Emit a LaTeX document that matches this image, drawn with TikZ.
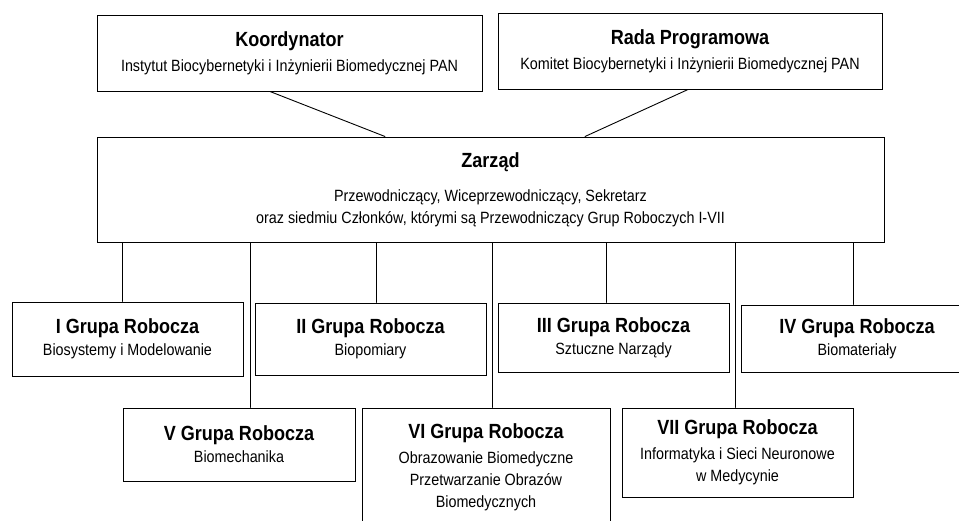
\documentclass[tikz,border=0pt]{standalone}
\usepackage{fontspec}
\setmainfont{Liberation Sans}[FakeStretch=0.88]
\usepackage{tikz}

\newcommand{\grtitle}[1]{{\fontsize{20.5}{24}\selectfont\bfseries #1}}

\begin{document}
\begin{tikzpicture}[x=1pt,y=-1pt,line cap=round,
  orgbox/.style={draw,line width=1pt,align=center,inner sep=0pt,
    minimum width=231,minimum height=74,font=\fontsize{16.3}{22}\selectfont},
  link/.style={line width=0.9pt}]
\useasboundingbox (0,0) rectangle (959,520);
% top level
\node[orgbox,minimum width=385,minimum height=76] (koord) at (289.5,53)
  {\grtitle{Koordynator}\\[3pt]Instytut Biocybernetyki i Inżynierii Biomedycznej PAN};
\node[orgbox,minimum width=384,minimum height=76] (rada) at (690,51)
  {\grtitle{Rada Programowa}\\[3pt]Komitet Biocybernetyki i Inżynierii Biomedycznej PAN};
\node[orgbox,minimum width=787,minimum height=105] (zarzad) at (490.5,189.5)
  {\grtitle{Zarząd}\\[12pt]Przewodniczący, Wiceprzewodniczący, Sekretarz\\oraz siedmiu Członków, którymi są Przewodniczący Grup Roboczych I-VII};
% working groups
\node[orgbox] (g1) at (127.5,339) {\grtitle{I Grupa Robocza}\\Biosystemy i Modelowanie};
\node[orgbox,minimum height=72] (g2) at (370.5,339) {\grtitle{II Grupa Robocza}\\Biopomiary};
\node[orgbox,minimum height=69] (g3) at (613.5,337.5) {\grtitle{III Grupa Robocza}\\Sztuczne Narządy};
\node[orgbox,minimum width=232,minimum height=67] (g4) at (857,338.5) {\grtitle{IV Grupa Robocza}\\Biomateriały};
\node[orgbox,minimum width=232,minimum height=73] (g5) at (239,444.5) {\grtitle{V Grupa Robocza}\\Biomechanika};
\node[orgbox,minimum width=248,minimum height=118] (g6) at (486,467)
  {\grtitle{VI Grupa Robocza}\\[3pt]Obrazowanie Biomedyczne\\Przetwarzanie Obrazów\\Biomedycznych};
\node[orgbox,minimum height=89] (g7) at (737.5,452.5)
  {\grtitle{VII Grupa Robocza}\\[3pt]Informatyka i Sieci Neuronowe\\w Medycynie};
% links
\draw[link] ([xshift=-19.5pt]koord.south) -- ([xshift=-105.5pt]zarzad.north);
\draw[link] ([xshift=-2pt]rada.south) -- ([xshift=94.5pt]zarzad.north);
\draw[link] ([xshift=-5.5pt]g1.north) -- ([xshift=-5.5pt]g1.north |- zarzad.south);
\draw[link] ([xshift=5.5pt]g2.north) -- ([xshift=5.5pt]g2.north |- zarzad.south);
\draw[link] ([xshift=-7pt]g3.north) -- ([xshift=-7pt]g3.north |- zarzad.south);
\draw[link] ([xshift=-3.5pt]g4.north) -- ([xshift=-3.5pt]g4.north |- zarzad.south);
\draw[link] ([xshift=11pt]g5.north) -- ([xshift=11pt]g5.north |- zarzad.south);
\draw[link] ([xshift=6pt]g6.north) -- ([xshift=6pt]g6.north |- zarzad.south);
\draw[link] ([xshift=-2pt]g7.north) -- ([xshift=-2pt]g7.north |- zarzad.south);
\end{tikzpicture}
\end{document}
